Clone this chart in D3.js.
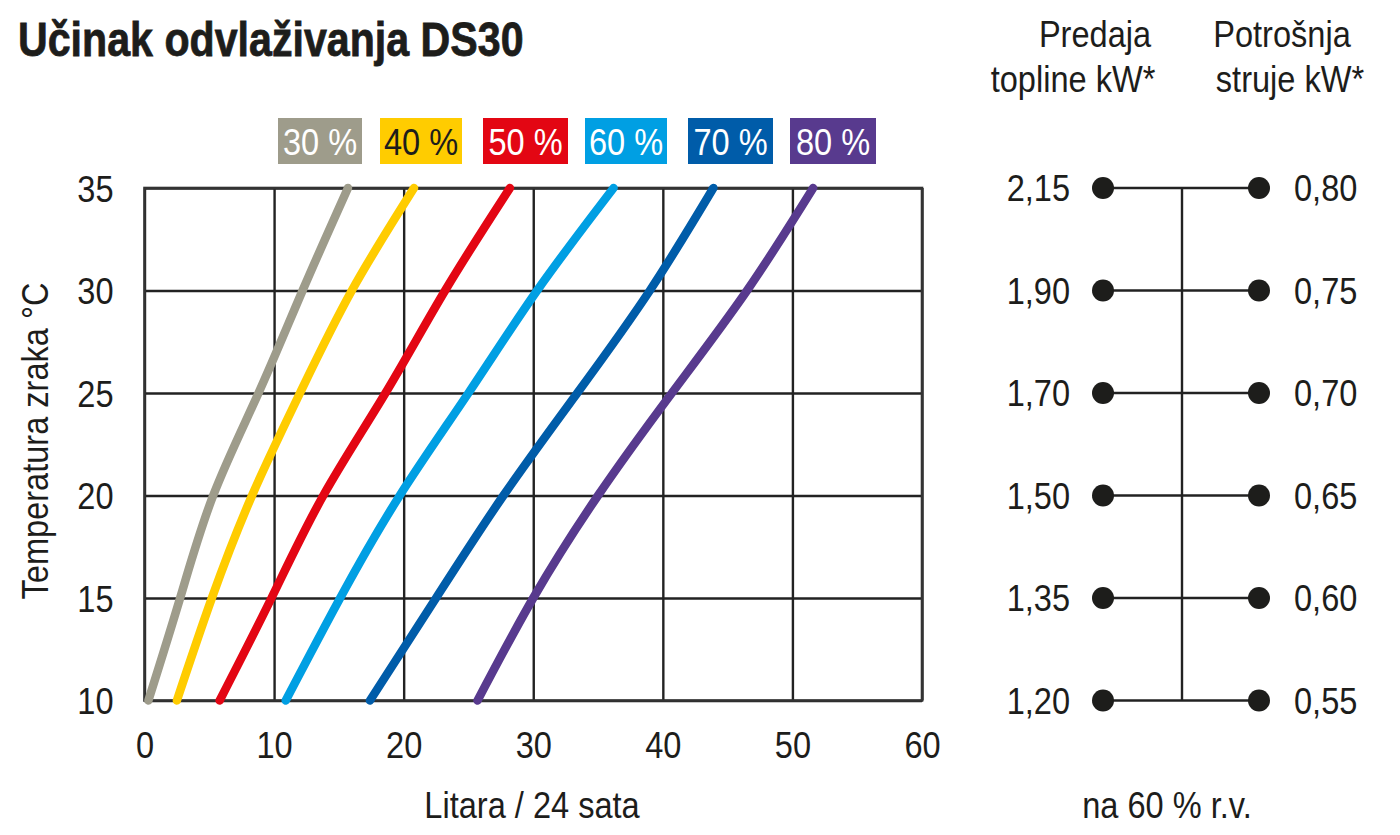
<!DOCTYPE html>
<html><head><meta charset="utf-8">
<script src="https://cdn.jsdelivr.net/npm/d3@7"></script>
<style>
body{margin:0;background:#fff;}
text{font-family:"Liberation Sans",Arial,sans-serif;fill:#1d1d1b;}
</style></head>
<body><svg id="c" width="1400" height="835"></svg>
<script>
const temps = [10, 15, 20, 25, 30, 35];
const seriesNames = ["30 %", "40 %", "50 %", "60 %", "70 %", "80 %"];
const seriesColors = ["#9e9c8b", "#ffcc00", "#e30613", "#009fe3", "#005ca9", "#583a8e"];
const labelColors = ["#fff", "#1d1d1b", "#fff", "#fff", "#fff", "#fff"];
const s30 = [0.3, 2.75, 5.3, 8.8, 12.2, 15.7];
const s40 = [2.5, 5.2, 8.3, 12.0, 16.0, 20.8];
const s50 = [5.8, 9.8, 13.8, 18.6, 23.2, 28.2];
const s60 = [10.9, 15.1, 19.7, 25.0, 30.3, 36.2];
const s70 = [17.4, 22.5, 27.7, 33.4, 39.0, 43.9];
const s80 = [25.7, 30.0, 35.0, 40.7, 46.5, 51.6];
const xTicks = [0, 10, 20, 30, 40, 50, 60];
const yTicks = [10, 15, 20, 25, 30, 35];
const heatOutput = ["2,15", "1,90", "1,70", "1,50", "1,35", "1,20"];
const powerUse = ["0,80", "0,75", "0,70", "0,65", "0,60", "0,55"];
const rowTemps = [35, 30, 25, 20, 15, 10];

const allSeries = [s30, s40, s50, s60, s70, s80];
const svg = d3.select("#c");
const x = d3.scaleLinear().domain([0, 60]).range([144.5, 922]);
const y = d3.scaleLinear().domain([10, 35]).range([700.5, 188]);
const FS = 37, SQ = 0.88;

function squeeze(sel, k) {
  sel.each(function () {
    const t = d3.select(this);
    const tx = +t.attr("x") || 0;
    const prev = t.attr("transform") || "";
    t.attr("transform", `${prev} translate(${tx},0) scale(${k},1) translate(${-tx},0)`);
  });
  return sel;
}

// title
squeeze(svg.append("text").attr("x", 18).attr("y", 56).attr("font-size", 49).attr("font-weight", "bold")
  .style("stroke", "#1d1d1b").style("stroke-width", 0.8)
  .text("Učinak odvlaživanja DS30"), 0.84);

// grid
const g = svg.append("g");
g.append("g").attr("transform", `translate(0,${y(10)})`)
  .call(d3.axisBottom(x).tickValues(xTicks).tickSize(-(y(10) - y(35))).tickPadding(31).tickFormat(d3.format("d")))
  .call(a => a.select(".domain").remove())
  .call(a => a.selectAll("line").attr("stroke", "#222").attr("stroke-width", 2.4))
  .call(a => a.selectAll("text").attr("font-size", FS).attr("fill", "#1d1d1b").attr("dy", "0.71em").attr("font-family", null))
  .call(a => squeeze(a.selectAll("text"), SQ));
g.append("g").attr("transform", `translate(${x(0)},0)`)
  .call(d3.axisLeft(y).tickValues(yTicks).tickSize(-(x(60) - x(0))).tickPadding(31).tickFormat(d3.format("d")))
  .call(a => a.select(".domain").remove())
  .call(a => a.selectAll("line").attr("stroke", "#222").attr("stroke-width", 2.4))
  .call(a => a.selectAll("text").attr("font-size", FS).attr("fill", "#1d1d1b").attr("dy", "0.36em").attr("font-family", null))
  .call(a => squeeze(a.selectAll("text"), SQ));
g.append("rect").attr("x", x(0)).attr("y", y(35)).attr("width", x(60) - x(0)).attr("height", y(10) - y(35))
  .attr("fill", "none").attr("stroke", "#333").attr("stroke-width", 2.6);

// curves
const line = d3.line().x(d => x(d[0])).y(d => y(d[1])).curve(d3.curveNatural);
allSeries.forEach((s, i) => {
  svg.append("path").datum(s.map((v, k) => [v, temps[k]]))
    .attr("d", line).attr("fill", "none").attr("stroke", seriesColors[i])
    .attr("stroke-width", 8.5).attr("stroke-linecap", "round").attr("stroke-linejoin", "round");
});

// legend
const legX = [278, 380, 483, 585, 688, 790];
const legW = [84, 82, 85, 82, 85, 86];
seriesNames.forEach((n, i) => {
  svg.append("rect").attr("x", legX[i]).attr("y", 118).attr("width", legW[i]).attr("height", 46).attr("fill", seriesColors[i]);
  squeeze(svg.append("text").attr("x", legX[i] + legW[i] / 2).attr("y", 155).attr("text-anchor", "middle")
    .attr("font-size", FS).style("fill", labelColors[i]).text(n), SQ);
});

// axis titles
squeeze(svg.append("text").attr("x", 532).attr("y", 818).attr("text-anchor", "middle").attr("font-size", FS).text("Litara / 24 sata"), SQ);
squeeze(svg.append("text").attr("transform", `translate(48,441) rotate(-90)`).attr("x", 0).attr("y", 0)
  .attr("text-anchor", "middle").attr("font-size", FS).text("Temperatura zraka °C"), SQ);

// right panel
const lx = 1103, rx = 1259, mx = 1182;
svg.append("line").attr("x1", mx).attr("x2", mx).attr("y1", y(35)).attr("y2", y(10)).attr("stroke", "#222").attr("stroke-width", 2.4);
rowTemps.forEach((t, i) => {
  svg.append("line").attr("x1", lx).attr("x2", rx).attr("y1", y(t)).attr("y2", y(t)).attr("stroke", "#222").attr("stroke-width", 2.4);
  svg.append("circle").attr("cx", lx).attr("cy", y(t)).attr("r", 11).attr("fill", "#1d1d1b");
  svg.append("circle").attr("cx", rx).attr("cy", y(t)).attr("r", 11).attr("fill", "#1d1d1b");
  squeeze(svg.append("text").attr("x", 1070).attr("y", y(t)).attr("dy", "0.36em").attr("text-anchor", "end").attr("font-size", FS).text(heatOutput[i]), SQ);
  squeeze(svg.append("text").attr("x", 1294).attr("y", y(t)).attr("dy", "0.36em").attr("text-anchor", "start").attr("font-size", FS).text(powerUse[i]), SQ);
});
const hdr = [["Predaja", 1095, 47], ["topline kW*", 1073, 92], ["Potrošnja", 1282, 47], ["struje kW*", 1290, 92]];
hdr.forEach(h => squeeze(svg.append("text").attr("x", h[1]).attr("y", h[2]).attr("text-anchor", "middle").attr("font-size", FS).text(h[0]), SQ));
squeeze(svg.append("text").attr("x", 1167).attr("y", 818).attr("text-anchor", "middle").attr("font-size", FS).text("na 60 % r.v."), SQ);
</script></body></html>
